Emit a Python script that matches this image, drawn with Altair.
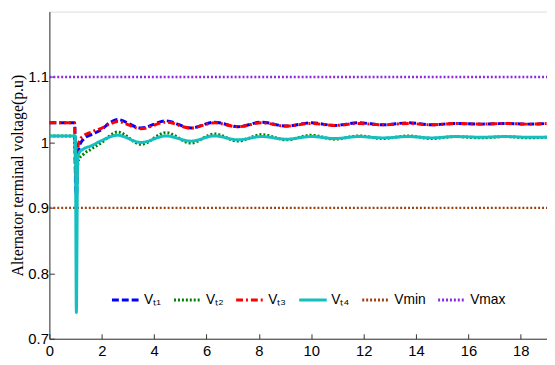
import altair as alt
import pandas as pd

# ---- data ----
t_vt1 = [0, 0.97, 1.0, 1.04, 1.08, 1.15, 1.3, 1.6, 2.0, 2.3, 2.6, 3.5, 4.45, 5.4, 6.3, 7.2, 8.1, 9.05, 10.0, 10.9, 11.8, 12.75, 13.7, 14.6, 15.5, 16.5, 17.4, 18.3, 19.0]
v_vt1 = [1.03, 1.03, 0.93, 0.92, 0.975, 0.995, 1.005, 1.012, 1.02, 1.03, 1.035, 1.022, 1.033, 1.022, 1.031, 1.024, 1.031, 1.025, 1.030, 1.026, 1.030, 1.027, 1.030, 1.027, 1.029, 1.028, 1.029, 1.028, 1.029]

t_vt2 = [0, 0.97, 1.0, 1.05, 1.1, 1.3, 1.6, 2.0, 2.3, 2.6, 3.5, 4.45, 5.4, 6.3, 7.2, 8.1, 9.05, 10.0, 10.9, 11.8, 12.75, 13.7, 14.6, 15.5, 16.5, 17.4, 18.3, 19.0]
v_vt2 = [1.01, 1.01, 0.96, 0.95, 0.972, 0.982, 0.99, 1.0, 1.01, 1.016, 0.997, 1.015, 0.999, 1.013, 1.002, 1.012, 1.004, 1.011, 1.005, 1.010, 1.006, 1.010, 1.006, 1.009, 1.007, 1.009, 1.007, 1.008]

t_vt3 = [0, 0.96, 1.0, 1.04, 1.08, 1.15, 1.3, 1.6, 2.0, 2.3, 2.6, 3.5, 4.45, 5.4, 6.3, 7.2, 8.1, 9.05, 10.0, 10.9, 11.8, 12.75, 13.7, 14.6, 15.5, 16.5, 17.4, 18.3, 19.0]
v_vt3 = [1.03, 1.03, 0.95, 0.94, 0.99, 1.003, 1.01, 1.016, 1.022, 1.028, 1.032, 1.021, 1.031, 1.022, 1.030, 1.024, 1.030, 1.025, 1.029, 1.026, 1.029, 1.027, 1.029, 1.027, 1.029, 1.028, 1.029, 1.028, 1.029]

t_vt4 = [0, 0.99, 1.03, 1.08, 1.15, 1.3, 1.6, 2.0, 2.6, 3.5, 4.45, 5.4, 6.3, 7.2, 8.1, 9.05, 10.0, 10.9, 11.8, 12.75, 13.7, 14.6, 15.5, 16.5, 17.4, 18.3, 19.0]
v_vt4 = [1.01, 1.01, 0.74, 0.975, 0.985, 0.99, 0.995, 1.003, 1.011, 1.0, 1.01, 1.002, 1.01, 1.004, 1.009, 1.005, 1.009, 1.006, 1.009, 1.007, 1.009, 1.007, 1.009, 1.008, 1.009, 1.008, 1.008]

t_lim = [0, 19.0]
v_min = [0.9, 0.9]
v_max = [1.1, 1.1]

series_names = ["Vₜ₁", "Vₜ₂", "Vₜ₃", "Vₜ₄", "Vmin", "Vmax"]
series_colors = ["#0000ff", "#008000", "#ff0000", "#14bfbf", "#a0400f", "#8a2be2"]
series_dashes = [[7, 3], [2, 2], [7, 3, 2, 3], [1, 0], [2, 2], [2, 2]]
x_ticks = [0, 2, 4, 6, 8, 10, 12, 14, 16, 18]
y_ticks = [0.7, 0.8, 0.9, 1.0, 1.1]

rows = []
for name, ts, vs in [("Vmin", t_lim, v_min), ("Vmax", t_lim, v_max),
                     ("Vₜ₁", t_vt1, v_vt1), ("Vₜ₂", t_vt2, v_vt2),
                     ("Vₜ₃", t_vt3, v_vt3), ("Vₜ₄", t_vt4, v_vt4)]:
    for t, v in zip(ts, vs):
        rows.append({"t": t, "v": v, "s": name})
df = pd.DataFrame(rows)

AX_FONT = "Liberation Sans Narrow, Liberation Sans, Arial"

x = alt.X("t:Q", scale=alt.Scale(domain=[0, 19.0], nice=False, zero=False),
          axis=alt.Axis(values=x_ticks, title=None, grid=False, domain=True,
                        domainColor="#333333", tickColor="#333333",
                        tickSize={"expr": "-5"}, labelFont=AX_FONT, labelFontSize=15,
                        labelColor="black", labelPadding=10, labelFlush=False))
y = alt.Y("v:Q", scale=alt.Scale(domain=[0.7, 1.2], nice=False, zero=False),
          axis=alt.Axis(values=y_ticks, format="~g", grid=False,
                        title="Alternator terminal voltage(p.u)",
                        titleFont="Liberation Serif", titleFontSize=16,
                        titleFontWeight="normal", titleColor="black", titlePadding=2,
                        domainColor="#333333", tickColor="#333333",
                        tickSize={"expr": "-5"}, labelFont=AX_FONT, labelFontSize=15,
                        labelColor="black", labelPadding=6))
color = alt.Color("s:N", scale=alt.Scale(domain=series_names, range=series_colors),
                  legend=alt.Legend(title=None, orient="none", direction="horizontal",
                                    legendX=62, legendY=277, columns=6,
                                    columnPadding=6, symbolType="stroke",
                                    symbolSize=784, symbolStrokeWidth=3,
                                    labelFont=AX_FONT, labelFontSize=14,
                                    labelColor="black", labelOffset=3))
dash = alt.StrokeDash("s:N", scale=alt.Scale(domain=series_names, range=series_dashes),
                      legend=None)

layers = []
for name, width in [("Vmin", 2.5), ("Vmax", 2.5), ("Vₜ₁", 3), ("Vₜ₂", 3), ("Vₜ₃", 3), ("Vₜ₄", 3)]:
    layers.append(
        alt.Chart(df).transform_filter(alt.datum.s == name)
        .mark_line(strokeWidth=width, interpolate="monotone", clip=True)
        .encode(x=x, y=y, color=color, strokeDash=dash)
    )

chart = alt.layer(*layers).properties(
    width=505, height=332,
    autosize=alt.AutoSizeParams(type="none"),
    padding={"left": 42, "top": 1, "right": 0, "bottom": 24},
).configure_view(stroke=None).configure(background="white")

chart.save("out.html", embed_options={"renderer": "svg", "actions": False})
